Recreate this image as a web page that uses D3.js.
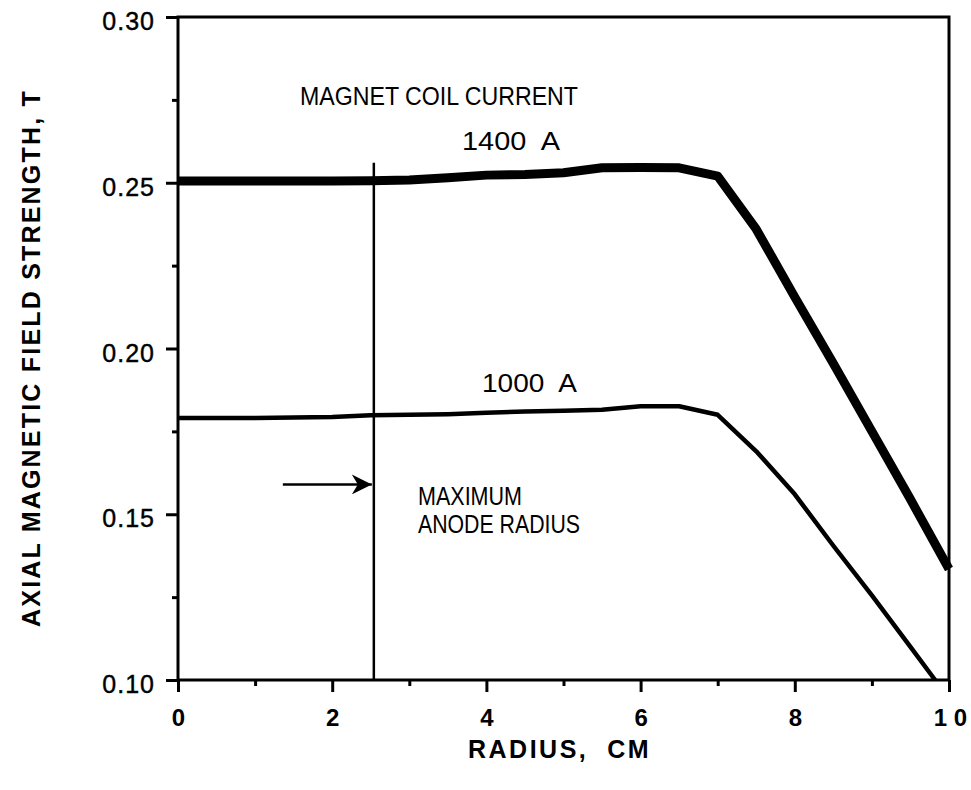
<!DOCTYPE html>
<html>
<head>
<meta charset="utf-8">
<script src="https://cdn.jsdelivr.net/npm/d3@7"></script>
<style>
  body { margin: 0; background: #fff; }
  text { font-family: "Liberation Sans", Arial, Helvetica, sans-serif; fill: #000; }
</style>
</head>
<body>
<script>
// radius (cm) sampled along both curves
var radius = [0, 1, 2, 2.5, 3, 3.5, 4, 4.5, 5, 5.5, 6, 6.5, 7, 7.5, 8, 8.5, 9, 9.5, 10]
var field1400 = [0.2505, 0.2505, 0.2505, 0.2506, 0.2508, 0.2515, 0.2523, 0.2525, 0.2530, 0.2545, 0.2546, 0.2545, 0.2520, 0.2360, 0.2155, 0.1955, 0.1750, 0.1545, 0.1335]
var radius1000 = [0, 1, 2, 2.5, 3, 3.5, 4, 4.5, 5, 5.5, 6, 6.5, 7, 7.5, 8, 8.5, 9, 9.5, 9.82]
var field1000 = [0.1790, 0.1790, 0.1793, 0.1799, 0.1800, 0.1802, 0.1806, 0.1810, 0.1812, 0.1815, 0.1826, 0.1826, 0.1800, 0.1690, 0.1560, 0.1405, 0.1255, 0.1100, 0.1000]

var xTicks = [0, 2, 4, 6, 8, 10]
var xMinor = [1, 3, 5, 7, 9]
var yTicks = [0.10, 0.15, 0.20, 0.25, 0.30]
var yMinor = [0.125, 0.175, 0.225, 0.275]

var anodeRadius = 2.54
var anodeTop = 0.256
var arrowY = 0.159

var w = 971, h = 790
var mLeft = 178, mRight = 949, mTop = 17, mBottom = 680

var svg = d3.select("body")
    .append("svg")
    .attr("width", w)
    .attr("height", h);

var xScale = d3.scaleLinear().domain([0, 10]).range([mLeft, mRight]);
var yScale = d3.scaleLinear().domain([0.10, 0.30]).range([mBottom, mTop]);

// frame
svg.append("rect")
    .attr("x", xScale(0))
    .attr("y", yScale(0.30))
    .attr("width", xScale(10) - xScale(0))
    .attr("height", yScale(0.10) - yScale(0.30))
    .attr("fill", "none")
    .attr("stroke", "#000")
    .attr("stroke-width", 3);

// x axis, major then minor ticks
var xAxis = d3.axisBottom(xScale)
    .tickValues(xTicks)
    .tickSize(12)
    .tickPadding(17)
    .tickFormat(function(d) { return d == 10 ? "1 0" : d; });

var gx = svg.append("g")
    .attr("transform", "translate(0," + mBottom + ")")
    .call(xAxis);
gx.select(".domain").remove();
gx.selectAll("line").attr("stroke", "#000").attr("stroke-width", 3);
gx.selectAll("text")
    .attr("font-size", 24)
    .attr("font-weight", "bold")
    .attr("dx", function(d) { return d == 10 ? 1 : 0; });

var gxMinor = svg.append("g")
    .attr("transform", "translate(0," + mBottom + ")")
    .call(d3.axisBottom(xScale).tickValues(xMinor).tickSize(6).tickFormat(""));
gxMinor.select(".domain").remove();
gxMinor.selectAll("line").attr("stroke", "#000").attr("stroke-width", 3);

// y axis
var yAxis = d3.axisLeft(yScale)
    .tickValues(yTicks)
    .tickSize(12)
    .tickPadding(11)
    .tickFormat(d3.format(".2f"));

var gy = svg.append("g")
    .attr("transform", "translate(" + mLeft + ",0)")
    .call(yAxis);
gy.select(".domain").remove();
gy.selectAll("line").attr("stroke", "#000").attr("stroke-width", 3);
gy.selectAll("text")
    .attr("font-size", 25)
    .attr("letter-spacing", 1)
    .attr("stroke", "#000")
    .attr("stroke-width", 0.4)
    .attr("dy", "0.5em");

var gyMinor = svg.append("g")
    .attr("transform", "translate(" + mLeft + ",0)")
    .call(d3.axisLeft(yScale).tickValues(yMinor).tickSize(6).tickFormat(""));
gyMinor.select(".domain").remove();
gyMinor.selectAll("line").attr("stroke", "#000").attr("stroke-width", 3);

// axis titles
svg.append("text")
    .attr("x", (mLeft + mRight) / 2 - 4)
    .attr("y", 758)
    .attr("text-anchor", "middle")
    .attr("font-size", 25)
    .attr("font-weight", "bold")
    .attr("letter-spacing", 2.5)
    .text("RADIUS,\u00a0 CM");

svg.append("text")
    .attr("transform", "translate(40," + 358 + ") rotate(-90)")
    .attr("text-anchor", "middle")
    .attr("font-size", 25)
    .attr("font-weight", "bold")
    .attr("letter-spacing", 2.2)
    .text("AXIAL MAGNETIC FIELD STRENGTH, T");

// curves
var line = d3.line()
    .x(function(d) { return xScale(d[0]); })
    .y(function(d) { return yScale(d[1]); });

svg.append("path")
    .datum(d3.zip(radius1000, field1000))
    .attr("d", line)
    .attr("fill", "none")
    .attr("stroke", "#000")
    .attr("stroke-width", 4.5)
    .attr("stroke-linejoin", "round");

svg.append("path")
    .datum(d3.zip(radius, field1400))
    .attr("d", line)
    .attr("fill", "none")
    .attr("stroke", "#000")
    .attr("stroke-width", 9)
    .attr("stroke-linejoin", "round");

// maximum anode radius marker
svg.append("line")
    .attr("x1", xScale(anodeRadius))
    .attr("x2", xScale(anodeRadius))
    .attr("y1", yScale(anodeTop))
    .attr("y2", yScale(0.10))
    .attr("stroke", "#000")
    .attr("stroke-width", 2.5);

svg.append("defs").append("marker")
    .attr("id", "head")
    .attr("viewBox", "0 0 10 10")
    .attr("refX", 10)
    .attr("refY", 5)
    .attr("markerWidth", 9)
    .attr("markerHeight", 8)
    .attr("markerUnits", "strokeWidth")
    .attr("orient", "auto")
    .append("path")
    .attr("d", "M0,0 L10,5 L0,10 L3,5 Z")
    .attr("fill", "#000");

svg.append("line")
    .attr("x1", xScale(1.36))
    .attr("x2", xScale(anodeRadius) - 2)
    .attr("y1", yScale(arrowY))
    .attr("y2", yScale(arrowY))
    .attr("stroke", "#000")
    .attr("stroke-width", 2.5)
    .attr("marker-end", "url(#head)");

// annotations
var notes = [
    {t: "MAGNET COIL CURRENT", x: 300, y: 105, len: 278},
    {t: "1400\u00a0 A", x: 462, y: 150, len: 98},
    {t: "1000\u00a0 A", x: 482, y: 392, len: 95},
    {t: "MAXIMUM", x: 418, y: 505, len: 104},
    {t: "ANODE RADIUS", x: 418, y: 533, len: 162}
]

svg.selectAll("text.note")
    .data(notes)
    .enter()
    .append("text")
    .attr("class", "note")
    .attr("x", function(d) { return d.x; })
    .attr("y", function(d) { return d.y; })
    .attr("font-size", 25)
    .attr("textLength", function(d) { return d.len; })
    .attr("lengthAdjust", "spacingAndGlyphs")
    .text(function(d) { return d.t; });
</script>
</body>
</html>
